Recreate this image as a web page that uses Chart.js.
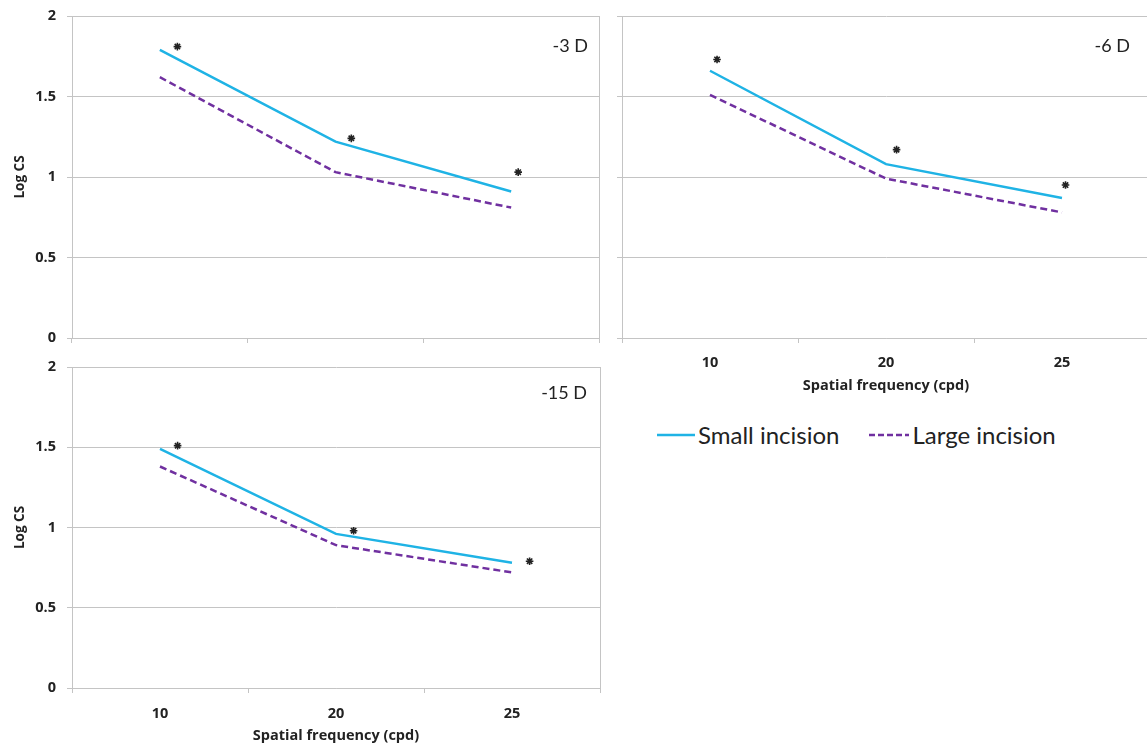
<!DOCTYPE html>
<html>
<head>
<meta charset="utf-8">
<script src="https://cdn.jsdelivr.net/npm/chart.js@4.4.0/dist/chart.umd.min.js"></script>
<style>
html, body { margin: 0; padding: 0; background: #fff; overflow: hidden; width: 1147px; height: 747px; }
canvas { position: absolute; }
#legend { position: absolute; left: 657px; top: 420px; display: flex; align-items: center;
  font-family: Lato, "Open Sans", sans-serif; font-size: 24px; color: #222; white-space: nowrap; }
#legend .item { display: flex; align-items: center; margin-right: 30px; }
#legend svg { margin-right: 3px; }
</style>
</head>
<body>
<canvas id="c3" width="610" height="350" style="left:0;top:0"></canvas>
<canvas id="c6" width="545" height="400" style="left:615px;top:0"></canvas>
<canvas id="c15" width="610" height="397" style="left:0;top:350px"></canvas>
<div id="legend"></div>
<script>
// spatial frequency categories (cpd)
let categories = ["10", "20", "25"];
let seriesNames = ["Small incision", "Large incision"];

// -3 D
let small3 = [1.79, 1.22, 0.91];
let large3 = [1.62, 1.03, 0.81];
let starX3 = [0.1, 1.09, 2.04];
let starY3 = [1.81, 1.24, 1.03];

// -6 D
let small6 = [1.66, 1.08, 0.87];
let large6 = [1.51, 0.99, 0.78];
let starX6 = [0.04, 1.06, 2.02];
let starY6 = [1.73, 1.17, 0.95];

// -15 D
let small15 = [1.49, 0.96, 0.78];
let large15 = [1.38, 0.89, 0.72];
let starX15 = [0.1, 1.1, 2.1];
let starY15 = [1.51, 0.98, 0.79];

const cyan = "#1fb3e5";
const purple = "#7030a0";
const gridColor = "#c4c4c4";
const textColor = "#222";
const fontFam = "Lato, 'Open Sans', sans-serif";
const axisFam = "'Open Sans', 'Noto Sans', sans-serif";

// draws the panel name and the right edge of the plot box
const panelLabel = {
  id: "panelLabel",
  beforeDatasetsDraw(chart, args, opts) {
    const a = chart.chartArea;
    const ctx = chart.ctx;
    ctx.save();
    ctx.strokeStyle = gridColor;
    ctx.lineWidth = 1;
    ctx.beginPath();
    ctx.moveTo(Math.round(a.right) + 0.5, a.top);
    ctx.lineTo(Math.round(a.right) + 0.5, a.bottom);
    ctx.stroke();
    ctx.font = "18px " + fontFam;
    ctx.fillStyle = textColor;
    ctx.textAlign = "right";
    ctx.textBaseline = "middle";
    ctx.fillText(opts.text, a.right - opts.dx, a.top + opts.dy);
    ctx.restore();
  }
};

function makePanel(id, o) {
  const stars = o.starX.map(function (x, i) { return { x: x, y: o.starY[i] }; });
  return new Chart(document.getElementById(id), {
    type: "line",
    data: {
      labels: categories,
      datasets: [
        { label: seriesNames[0], data: o.small, borderColor: cyan, borderWidth: 2.5, pointRadius: 0, tension: 0 },
        { label: seriesNames[1], data: o.large, borderColor: purple, borderWidth: 2.5, borderDash: [7, 4], pointRadius: 0, tension: 0 },
        { label: "*", data: stars, xAxisID: "xs", showLine: false, pointStyle: "star",
          pointRadius: 3.8, borderColor: "#222", backgroundColor: "#222", borderWidth: 1.6 }
      ]
    },
    options: {
      responsive: false,
      animation: false,
      layout: { padding: o.pad },
      plugins: {
        legend: { display: false },
        tooltip: { enabled: false },
        panelLabel: { text: o.name, dx: o.dx, dy: o.dy }
      },
      scales: {
        x: {
          type: "category",
          offset: true,
          grid: { drawOnChartArea: false, offset: true, tickLength: 5, color: gridColor },
          border: { color: gridColor },
          ticks: { display: o.xLabels, padding: o.xPad, color: textColor, font: { family: axisFam, size: 14.5, weight: "bold" } },
          title: { display: o.xLabels, text: "Spatial frequency (cpd)", color: textColor,
                   padding: { top: 0, bottom: o.titlePad }, font: { family: axisFam, size: 14.5, weight: "bold" } },
          afterFit: function (s) { s.height = o.xh; s.paddingLeft = 0; s.paddingRight = 0; }
        },
        xs: { type: "linear", display: false, min: -0.5, max: 2.5 },
        y: {
          min: 0,
          max: 2,
          grid: { color: gridColor, tickLength: 5 },
          border: { color: gridColor },
          ticks: { stepSize: 0.5, display: o.yLabels, padding: 11, color: textColor,
                   callback: function (v) { return String(Number(v)); },
                   font: { family: axisFam, size: 14.5, weight: "bold" } },
          title: { display: o.yLabels, text: "Log CS", color: textColor,
                   padding: { top: 12, bottom: 0 }, font: { family: axisFam, size: 13.5, weight: "bold" } },
          afterFit: function (s) { s.width = o.yw; s.paddingTop = 0; s.paddingBottom = 0; }
        }
      }
    },
    plugins: [panelLabel]
  });
}

makePanel("c3", {
  name: "-3 D", small: small3, large: large3, starX: starX3, starY: starY3,
  pad: { top: 16, right: 11, left: 0, bottom: 0 }, yw: 72, xh: 12,
  xLabels: false, yLabels: true, xPad: 10, titlePad: 0, dx: 11, dy: 30
});
makePanel("c6", {
  name: "-6 D", small: small6, large: large6, starX: starX6, starY: starY6,
  pad: { top: 16, right: 10, left: 0, bottom: 0 }, yw: 7, xh: 62,
  xLabels: true, yLabels: false, xPad: 11, titlePad: 5, dx: 20, dy: 30
});
makePanel("c15", {
  name: "-15 D", small: small15, large: large15, starX: starX15, starY: starY15,
  pad: { top: 17, right: 10, left: 0, bottom: 0 }, yw: 72, xh: 59,
  xLabels: true, yLabels: true, xPad: 12, titlePad: 2, dx: 13, dy: 26
});

// legend built from the series names and styles
const legend = document.getElementById("legend");
const styles = [
  { color: cyan, dash: "", w: 38 },
  { color: purple, dash: "6 3", w: 40 }
];
seriesNames.forEach(function (name, i) {
  const st = styles[i];
  const item = document.createElement("div");
  item.className = "item";
  item.innerHTML = '<svg width="' + st.w + '" height="6"><line x1="0" y1="3" x2="' + st.w +
    '" y2="3" stroke="' + st.color + '" stroke-width="2.5" stroke-dasharray="' + st.dash + '"/></svg>';
  const label = document.createElement("span");
  label.textContent = name;
  item.appendChild(label);
  legend.appendChild(item);
});
</script>
</body>
</html>
